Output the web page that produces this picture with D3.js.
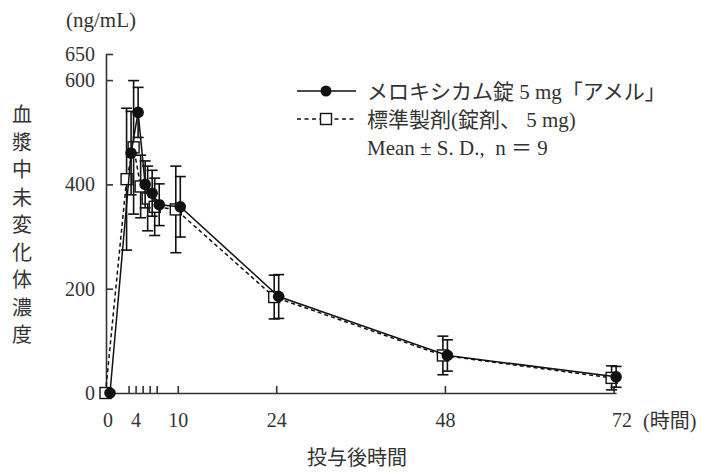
<!DOCTYPE html>
<html><head><meta charset="utf-8">
<script src="https://cdn.jsdelivr.net/npm/d3@7"></script>
<style>
body{margin:0;background:#fff;}
svg{display:block;}
text{font-family:"Liberation Serif","Noto Sans CJK JP",serif;fill:#333;white-space:pre;}
</style></head>
<body>
<svg id="c" width="714" height="472"></svg>
<script>
const times = [0, 3, 4, 5, 6, 7, 10, 24, 48, 72];
const testMean = [0, 460, 538, 400, 383, 361, 357, 185, 72, 31];
const testSD   = [0, 80, 48, 45, 44, 40, 58, 42, 30, 20];
const refMean  = [0, 410, 471, 396, 373, 357, 352, 184, 72, 29];
const refSD    = [0, 136, 128, 60, 62, 55, 83, 42, 37, 23];
const xTicks = [0, 3, 4, 5, 6, 7, 10, 24, 48, 72];
const xLabels = [0, 4, 10, 24, 48, 72];
const yTicks = [0, 200, 400, 600, 650];
const legendLabels = ["メロキシカム錠 5 mg「アメル」", "標準製剤(錠剤、 5 mg)", "Mean ± S. D.,  n ＝ 9"];
const yTitle = "血漿中未変化体濃度";
const xTitle = "投与後時間";
const unitY = "(ng/mL)";
const unitX = "(時間)";

const svg = d3.select("#c");
const x = d3.scaleLinear().domain([0, 72]).range([107.5, 613.6]);
const y = d3.scaleLinear().domain([0, 650]).range([393, 54]);
const ink = "#111";

// axes
const gx = svg.append("g").attr("transform", "translate(0,393)")
  .call(d3.axisBottom(x).tickValues(xTicks).tickSize(-7).tickSizeOuter(0).tickPadding(20)
    .tickFormat(d => xLabels.includes(d) ? d : ""));
gx.select(".domain").attr("d", `M${x(0)-1.5},0.5H${x(72)+3}`);
const gy = svg.append("g").attr("transform", "translate(106,0)")
  .call(d3.axisLeft(y).tickValues(yTicks).tickSize(-7).tickSizeOuter(0).tickPadding(11));
[gx, gy].forEach(g => {
  g.selectAll("path,line").attr("stroke", "#333").attr("stroke-width", 1.6);
  g.selectAll("text").attr("font-size", 20).attr("fill", "#333")
    .attr("font-family", "'Liberation Serif',serif");
});
gx.selectAll(".tick").filter(d => d === 0).select("line").remove();
gx.selectAll(".tick").filter(d => d === 72).select("text").attr("dx", 8);

svg.append("text").attr("x", 643).attr("y", 428).attr("font-size", 20).text(unitX);
svg.append("text").attr("x", 66).attr("y", 27).attr("font-size", 21).text(unitY);
svg.append("text").attr("x", 357).attr("y", 465).attr("text-anchor", "middle")
  .attr("font-size", 20).attr("font-family", "'Noto Sans CJK JP'").text(xTitle);
svg.append("g").selectAll("text").data(yTitle.split("")).join("text")
  .attr("x", 22).attr("y", (d, i) => 122 + i * 27.5).attr("text-anchor", "middle")
  .attr("font-size", 20).attr("font-family", "'Noto Sans CJK JP'").text(d => d);

function series(mean, sd, dx, dashed) {
  const pts = times.map((t, i) => ({ t, m: mean[i], s: sd[i] }));
  const g = svg.append("g");
  const line = d3.line().x(d => x(d.t) + dx).y(d => y(d.m));
  g.append("path").datum(pts).attr("d", line).attr("fill", "none")
    .attr("stroke", ink).attr("stroke-width", 1.5)
    .attr("stroke-dasharray", dashed ? "4,3" : null);
  const eb = g.selectAll(".eb").data(pts.filter(d => d.s > 0)).join("g");
  eb.append("line").attr("x1", d => x(d.t) + dx).attr("x2", d => x(d.t) + dx)
    .attr("y1", d => y(d.m + d.s)).attr("y2", d => y(d.m - d.s))
    .attr("stroke", ink).attr("stroke-width", 1.6);
  [1, -1].forEach(k => eb.append("line")
    .attr("x1", d => x(d.t) + dx - 5.5).attr("x2", d => x(d.t) + dx + 5.5)
    .attr("y1", d => y(d.m + k * d.s)).attr("y2", d => y(d.m + k * d.s))
    .attr("stroke", ink).attr("stroke-width", 1.6));
  return { g, pts };
}

const ref = series(refMean, refSD, -2, true);
const test = series(testMean, testSD, 2.5, false);
ref.g.selectAll(".sq").data(ref.pts).join("rect")
  .attr("x", d => x(d.t) - 2 - 5.5).attr("y", d => y(d.m) - 5.5)
  .attr("width", 11).attr("height", 11).attr("fill", "#fff").attr("stroke", ink).attr("stroke-width", 1.4);
test.g.selectAll(".ci").data(test.pts).join("circle")
  .attr("cx", d => x(d.t) + 2.5).attr("cy", d => y(d.m)).attr("r", 5.8).attr("fill", ink);

// legend
const lg = svg.append("g");
lg.append("line").attr("x1", 297).attr("x2", 356).attr("y1", 91).attr("y2", 91)
  .attr("stroke", ink).attr("stroke-width", 1.5);
lg.append("circle").attr("cx", 326).attr("cy", 91).attr("r", 5.5).attr("fill", ink);
lg.append("line").attr("x1", 297).attr("x2", 356).attr("y1", 119).attr("y2", 119)
  .attr("stroke", ink).attr("stroke-width", 1.5).attr("stroke-dasharray", "4,3.5");
lg.append("rect").attr("x", 320.5).attr("y", 113.5).attr("width", 11).attr("height", 11)
  .attr("fill", "#fff").attr("stroke", ink).attr("stroke-width", 1.4);
lg.selectAll("text").data(legendLabels).join("text")
  .attr("x", 367).attr("y", (d, i) => 99 + i * 28).attr("font-size", 21).text(d => d);
</script>
</body></html>
